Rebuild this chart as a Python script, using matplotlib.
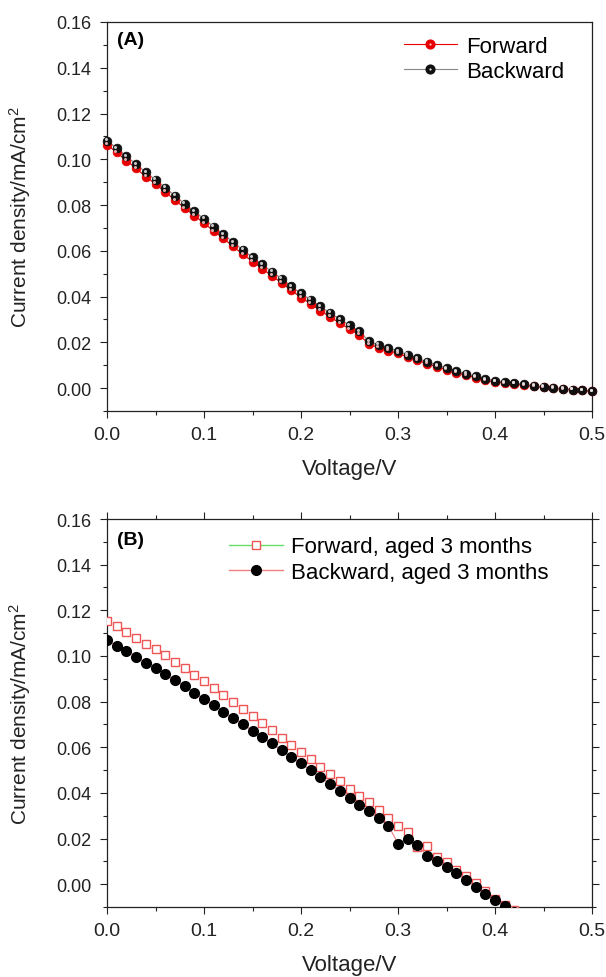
import numpy as np
import matplotlib
matplotlib.use("Agg")
import matplotlib.pyplot as plt
from matplotlib.lines import Line2D
from matplotlib.legend_handler import HandlerTuple
from matplotlib.ticker import MultipleLocator
from matplotlib.transforms import offset_copy

plt.rcParams['font.family'] = ['Liberation Sans', 'DejaVu Sans']
plt.rcParams['mathtext.fontset'] = 'custom'
plt.rcParams['mathtext.rm'] = 'Liberation Sans'
plt.rcParams['mathtext.default'] = 'regular'

# panel A: fresh device, 0 .. 0.50 V in 0.01 V steps
volt_a = np.round(np.arange(0, 0.501, 0.01), 2)
fwd_a = [0.1063, 0.1030, 0.0994, 0.0960, 0.0924, 0.0892, 0.0857, 0.0822, 0.0787, 0.0754,
         0.0721, 0.0686, 0.0654, 0.0619, 0.0585, 0.0553, 0.0522, 0.0490, 0.0460, 0.0427,
         0.0396, 0.0368, 0.0339, 0.0311, 0.0284, 0.0258, 0.0233, 0.0192, 0.0177, 0.0164,
         0.0152, 0.0137, 0.0122, 0.0107, 0.0094, 0.0080, 0.0068, 0.0057, 0.0046, 0.0035,
         0.0027, 0.0022, 0.0018, 0.0013, 0.0008, 0.0004, -0.0001, -0.0004, -0.0007, -0.0010,
         -0.0014]
bwd_a = [0.1081, 0.1049, 0.1013, 0.0979, 0.0943, 0.0911, 0.0876, 0.0841, 0.0806, 0.0773,
         0.0740, 0.0705, 0.0673, 0.0638, 0.0604, 0.0572, 0.0541, 0.0509, 0.0479, 0.0445,
         0.0414, 0.0386, 0.0357, 0.0329, 0.0302, 0.0275, 0.0249, 0.0205, 0.0189, 0.0175,
         0.0162, 0.0146, 0.0130, 0.0115, 0.0101, 0.0087, 0.0074, 0.0063, 0.0051, 0.0039,
         0.0031, 0.0026, 0.0021, 0.0016, 0.0010, 0.0006, 0.0001, -0.0003, -0.0006, -0.0009,
         -0.0013]

# panel B: aged 3 months, 0 .. 0.42 V
volt_b = np.round(np.arange(0, 0.421, 0.01), 2)
fwd_b = [0.1154, 0.1130, 0.1107, 0.1079, 0.1054, 0.1030, 0.1002, 0.0975, 0.0946, 0.0917,
         0.0888, 0.0859, 0.0829, 0.0797, 0.0768, 0.0738, 0.0706, 0.0674, 0.0642, 0.0611,
         0.0578, 0.0548, 0.0515, 0.0482, 0.0450, 0.0418, 0.0387, 0.0358, 0.0327, 0.0289,
         0.0256, 0.0227, 0.0161, 0.0165, 0.0117, 0.0095, 0.0063, 0.0036, 0.0007, -0.0029,
         -0.0063, -0.0092, -0.0115]
bwd_b = [0.1070, 0.1045, 0.1023, 0.0997, 0.0969, 0.0946, 0.0919, 0.0893, 0.0867, 0.0839,
         0.0811, 0.0785, 0.0756, 0.0727, 0.0702, 0.0672, 0.0643, 0.0617, 0.0586, 0.0559,
         0.0529, 0.0499, 0.0468, 0.0439, 0.0408, 0.0378, 0.0346, 0.0319, 0.0289, 0.0257,
         0.0178, 0.0197, 0.0170, 0.0124, 0.0100, 0.0076, 0.0048, 0.0018, -0.0011, -0.0042,
         -0.0070, -0.0095, -0.0120]

fig = plt.figure(figsize=(6.06, 9.78), dpi=100)
axA = fig.add_axes([0.1766, 0.5787, 0.8003, 0.3978])
axB = fig.add_axes([0.1766, 0.0716, 0.8003, 0.3967])


def ball(ax, x, y, col, hl, lcol, ms=6.3):
    # shaded sphere look: base marker plus small offset highlight
    ax.plot(x, y, '-', color=lcol, lw=0.8, zorder=2)
    ax.plot(x, y, 'o', ms=ms, mfc=col, mec=col, mew=0.5, zorder=3, clip_on=False)
    tr = offset_copy(ax.transData, fig=fig, x=-0.9, y=1.1, units='points')
    ax.plot(x, y, 'o', ms=ms * 0.35, mfc=hl, mec='none', alpha=0.85, transform=tr,
            zorder=4, clip_on=False)


ball(axA, volt_a, fwd_a, '#e80000', '#ffc8c8', '#e80000')
ball(axA, volt_a, bwd_a, '#101010', '#e8e8e8', '#888888')

axB.plot(volt_b, bwd_b, '-', color='#f08080', lw=0.8, zorder=2)
axB.plot(volt_b, fwd_b, 's', ms=5.6, mfc='white', mec='#ee5555', mew=1.0, zorder=3)
axB.plot(volt_b, bwd_b, 'o', ms=7.0, mfc='black', mec='black', zorder=4)

for ax in (axA, axB):
    ax.set_xlim(0, 0.5)
    ax.set_ylim(-0.01, 0.16)
    ax.xaxis.set_major_locator(MultipleLocator(0.1))
    ax.xaxis.set_minor_locator(MultipleLocator(0.05))
    ax.yaxis.set_major_locator(MultipleLocator(0.02))
    ax.yaxis.set_minor_locator(MultipleLocator(0.01))
    ax.xaxis.set_major_formatter(plt.FormatStrFormatter('%.1f'))
    ax.yaxis.set_major_formatter(plt.FormatStrFormatter('%.2f'))
    for s in ax.spines.values():
        s.set_linewidth(0.9)
        s.set_color('#222222')
    ax.tick_params(which='major', direction='out', length=5, width=0.8, color='#222222', pad=6)
    ax.tick_params(which='minor', direction='out', length=3, width=0.8, color='#222222')
    ax.tick_params(axis='x', labelsize=14, colors='#222222')
    ax.tick_params(axis='y', labelsize=13, colors='#222222')
    ax.set_xlabel('Voltage/V', fontsize=16, color='#222222')
    ax.set_ylabel(r'Current density/mA/cm$^2$', fontsize=15, color='#222222')
    ax.xaxis.set_label_coords(0.5, -0.122)
    ax.yaxis.set_label_coords(-0.152, 0.5)

axB.tick_params(which='both', top=True, right=True)

axA.text(0.02, 0.955, '(A)', transform=axA.transAxes, fontsize=14, fontweight='bold',
         va='center', ha='left')
axB.text(0.02, 0.946, '(B)', transform=axB.transAxes, fontsize=14, fontweight='bold',
         va='center', ha='left')

# legends
hA = [(Line2D([], [], color='#e80000', lw=0.8, marker='o', ms=6.3, mfc='#e80000', mec='#e80000'),
       Line2D([], [], ls='none', marker='o', ms=1.6, mfc='#ffc8c8', mec='none')),
      (Line2D([], [], color='#888888', lw=0.8, marker='o', ms=6.3, mfc='#101010', mec='#101010'),
       Line2D([], [], ls='none', marker='o', ms=1.6, mfc='#e8e8e8', mec='none'))]
axA.legend(hA, ['Forward', 'Backward'], loc='upper left', bbox_to_anchor=(0.612, 0.965),
           frameon=False, fontsize=16, handlelength=2.4, handletextpad=0.4,
           labelspacing=0.2, borderpad=0, borderaxespad=0,
           handler_map={tuple: HandlerTuple(ndivide=1, pad=0)})

hB = [Line2D([], [], color='#66dd66', lw=1.0, marker='s', ms=5.6, mfc='white', mec='#ee5555'),
      Line2D([], [], color='#f08080', lw=1.0, marker='o', ms=7.0, mfc='black', mec='black')]
axB.legend(hB, ['Forward, aged 3 months', 'Backward, aged 3 months'], loc='upper left',
           bbox_to_anchor=(0.252, 0.955), frameon=False, fontsize=16, handlelength=2.4,
           handletextpad=0.4, labelspacing=0.2, borderpad=0, borderaxespad=0)

fig.savefig('out.png', dpi=100)
